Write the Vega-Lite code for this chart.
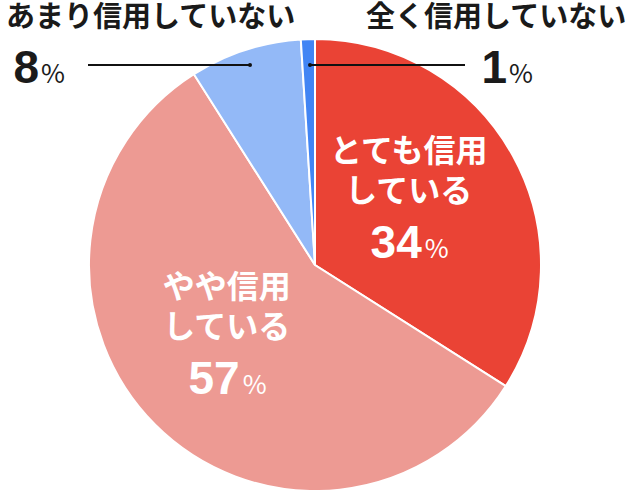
{
  "$schema": "https://vega.github.io/schema/vega-lite/v6.json",
  "width": 630,
  "height": 450,
  "autosize": {"type": "none"},
  "padding": {"top": 40, "left": 0, "right": 0, "bottom": 0},
  "background": "white",
  "config": {"view": {"stroke": null}},
  "data": {
    "values": [
      {"category": "とても信用している", "value": 34, "order": 1, "line1": "とても信用", "line2": "している"},
      {"category": "やや信用している", "value": 57, "order": 2, "line1": "やや信用", "line2": "している"},
      {"category": "あまり信用していない", "value": 8, "order": 3, "line1": "あまり信用", "line2": "していない"},
      {"category": "全く信用していない", "value": 1, "order": 4, "line1": "全く信用", "line2": "していない"}
    ]
  },
  "resolve": {"scale": {"x": "independent", "y": "independent", "size": "independent"}},
  "layer": [
    {
      "mark": {"type": "arc", "outerRadius": 226, "stroke": "white", "strokeWidth": 2},
      "encoding": {
        "theta": {"field": "value", "type": "quantitative", "stack": true},
        "order": {"field": "order", "type": "quantitative"},
        "color": {
          "field": "category", "type": "nominal",
          "scale": {"domain": ["とても信用している", "やや信用している", "あまり信用していない", "全く信用していない"],
                    "range": ["#EA4335", "#ED9A93", "#93B9F7", "#4285F4"]},
          "legend": null
        }
      }
    },
    {
      "mark": {"type": "text", "radius": 115, "dx": -7, "dy": -58, "font": "Noto Sans CJK JP", "fontWeight": "bold", "fontSize": 32, "fill": "white", "align": "center", "baseline": "middle"},
      "encoding": {
        "theta": {"field": "value", "type": "quantitative", "stack": true},
        "order": {"field": "order", "type": "quantitative"},
        "text": {"field": "line1"},
        "opacity": {"condition": {"test": "datum.value < 10", "value": 0}, "value": 1}
      }
    },
    {
      "mark": {"type": "text", "radius": 115, "dx": -7, "dy": -18, "font": "Noto Sans CJK JP", "fontWeight": "bold", "fontSize": 32, "fill": "white", "align": "center", "baseline": "middle"},
      "encoding": {
        "theta": {"field": "value", "type": "quantitative", "stack": true},
        "order": {"field": "order", "type": "quantitative"},
        "text": {"field": "line2"},
        "opacity": {"condition": {"test": "datum.value < 10", "value": 0}, "value": 1}
      }
    },
    {
      "mark": {"type": "text", "radius": 115, "dx": 6, "dy": 48, "font": "Liberation Sans", "fontWeight": "bold", "fontSize": 46, "fill": "white", "align": "right", "baseline": "alphabetic"},
      "encoding": {
        "theta": {"field": "value", "type": "quantitative", "stack": true},
        "order": {"field": "order", "type": "quantitative"},
        "text": {"field": "value", "type": "quantitative"},
        "opacity": {"condition": {"test": "datum.value < 10", "value": 0}, "value": 1}
      }
    },
    {
      "mark": {"type": "text", "radius": 115, "dx": 9, "dy": 48, "font": "Noto Sans CJK JP", "fontSize": 26, "fill": "white", "align": "left", "baseline": "alphabetic"},
      "encoding": {
        "theta": {"field": "value", "type": "quantitative", "stack": true},
        "order": {"field": "order", "type": "quantitative"},
        "text": {"value": "%"},
        "opacity": {"condition": {"test": "datum.value < 10", "value": 0}, "value": 1}
      }
    },
    {
      "transform": [{"filter": "datum.value < 10"}],
      "mark": {"type": "text", "font": "Noto Sans CJK JP", "fontWeight": "bold", "fontSize": 29, "fill": "#1a1a1a", "align": "left", "baseline": "middle"},
      "encoding": {
        "x": {"field": "category", "type": "nominal", "scale": {"type": "point", "domain": ["あまり信用していない", "全く信用していない"], "range": [6, 366], "padding": 0}, "axis": null},
        "y": {"field": "category", "type": "nominal", "scale": {"type": "point", "domain": ["あまり信用していない", "全く信用していない"], "range": [-22, -22], "padding": 0}, "axis": null},
        "text": {"field": "category"}
      }
    },
    {
      "transform": [{"filter": "datum.value < 10"}],
      "mark": {"type": "text", "font": "Liberation Sans", "fontWeight": "bold", "fontSize": 46, "fill": "#1a1a1a", "align": "right", "baseline": "alphabetic"},
      "encoding": {
        "x": {"field": "category", "type": "nominal", "scale": {"type": "point", "domain": ["あまり信用していない", "全く信用していない"], "range": [39, 507], "padding": 0}, "axis": null},
        "y": {"field": "category", "type": "nominal", "scale": {"type": "point", "domain": ["あまり信用していない", "全く信用していない"], "range": [43, 43], "padding": 0}, "axis": null},
        "text": {"field": "value", "type": "quantitative"}
      }
    },
    {
      "transform": [{"filter": "datum.value < 10"}],
      "mark": {"type": "text", "font": "Noto Sans CJK JP", "fontSize": 26, "fill": "#1a1a1a", "align": "left", "baseline": "alphabetic"},
      "encoding": {
        "x": {"field": "category", "type": "nominal", "scale": {"type": "point", "domain": ["あまり信用していない", "全く信用していない"], "range": [41, 509], "padding": 0}, "axis": null},
        "y": {"field": "category", "type": "nominal", "scale": {"type": "point", "domain": ["あまり信用していない", "全く信用していない"], "range": [43, 43], "padding": 0}, "axis": null},
        "text": {"value": "%"}
      }
    },
    {
      "transform": [{"filter": "datum.value < 10"}],
      "mark": {"type": "tick", "orient": "horizontal", "thickness": 2, "color": "#111111", "opacity": 1},
      "encoding": {
        "x": {"field": "category", "type": "nominal", "scale": {"type": "point", "domain": ["あまり信用していない", "全く信用していない"], "range": [169, 388], "padding": 0}, "axis": null},
        "y": {"field": "category", "type": "nominal", "scale": {"type": "point", "domain": ["あまり信用していない", "全く信用していない"], "range": [25, 25], "padding": 0}, "axis": null},
        "size": {"field": "category", "type": "nominal", "scale": {"type": "point", "domain": ["あまり信用していない", "全く信用していない"], "range": [162, 154], "padding": 0}, "legend": null}
      }
    },
    {
      "transform": [{"filter": "datum.value < 10"}],
      "mark": {"type": "point", "filled": true, "size": 16, "color": "#111111", "opacity": 1},
      "encoding": {
        "x": {"field": "category", "type": "nominal", "scale": {"type": "point", "domain": ["あまり信用していない", "全く信用していない"], "range": [250, 310], "padding": 0}, "axis": null},
        "y": {"field": "category", "type": "nominal", "scale": {"type": "point", "domain": ["あまり信用していない", "全く信用していない"], "range": [25, 25], "padding": 0}, "axis": null}
      }
    }
  ]
}
